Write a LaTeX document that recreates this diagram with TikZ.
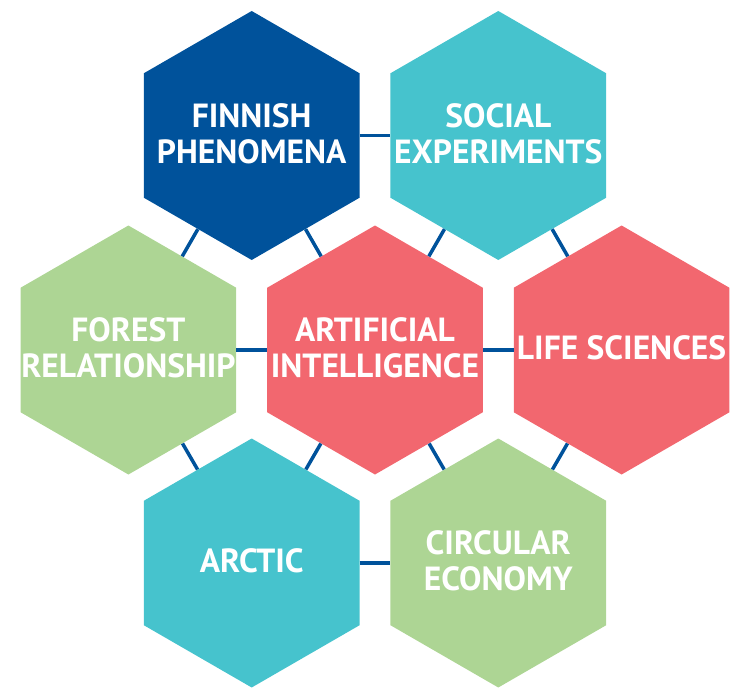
\documentclass[tikz,border=0pt]{standalone}
\usepackage{fontspec}
\setmainfont{PT Sans}
\usetikzlibrary{shapes.geometric}

\definecolor{hexblue}{RGB}{0,82,155}
\definecolor{hexteal}{RGB}{70,195,205}
\definecolor{hexred}{RGB}{242,103,111}
\definecolor{hexgreen}{RGB}{173,213,148}

\begin{document}
\begin{tikzpicture}[x=1pt,y=-1pt,
        hexcell/.style={regular polygon, regular polygon sides=6, shape border rotate=30,
            minimum size=249pt, inner sep=0pt, draw=none},
        hextext/.style={text=white, align=center, font=\bfseries\fontsize{33.5}{36}\selectfont},
        link/.style={draw=hexblue, line width=3.5pt}]
    \useasboundingbox (0,0) rectangle (747,690);
    % the seven cells
    \node [hexcell, fill=hexblue]  (fin) at (251.7,135.5) {};
    \node [hexcell, fill=hexteal]  (soc) at (498.3,135.5) {};
    \node [hexcell, fill=hexgreen] (for) at (128.4,350) {};
    \node [hexcell, fill=hexred]   (ai)  at (375,350) {};
    \node [hexcell, fill=hexred]   (life) at (621.6,350) {};
    \node [hexcell, fill=hexteal]  (arc) at (251.7,563) {};
    \node [hexcell, fill=hexgreen] (circ) at (498.3,563) {};
    % links
    \draw [link] (fin) -- (soc);
    \draw [link] (fin) -- (for);
    \draw [link] (fin) -- (ai);
    \draw [link] (soc) -- (ai);
    \draw [link] (soc) -- (life);
    \draw [link] (for) -- (ai);
    \draw [link] (ai) -- (life);
    \draw [link] (for) -- (arc);
    \draw [link] (ai) -- (arc);
    \draw [link] (ai) -- (circ);
    \draw [link] (life) -- (circ);
    \draw [link] (arc) -- (circ);
    % labels
    \node [hextext] (fin-l)  at ([yshift=2pt]fin)  {FINNISH\\PHENOMENA};
    \node [hextext] (soc-l)  at ([yshift=2pt]soc)  {SOCIAL\\EXPERIMENTS};
    \node [hextext] (for-l)  at ([yshift=2pt]for)  {FOREST\\RELATIONSHIP};
    \node [hextext] (ai-l)   at ([yshift=2pt]ai)   {ARTIFICIAL\\INTELLIGENCE};
    \node [hextext] (life-l) at ([yshift=2pt]life) {LIFE SCIENCES};
    \node [hextext] (arc-l)  at ([yshift=2pt]arc)  {ARCTIC};
    \node [hextext] (circ-l) at ([yshift=2pt]circ) {CIRCULAR\\ECONOMY};
\end{tikzpicture}
\end{document}
